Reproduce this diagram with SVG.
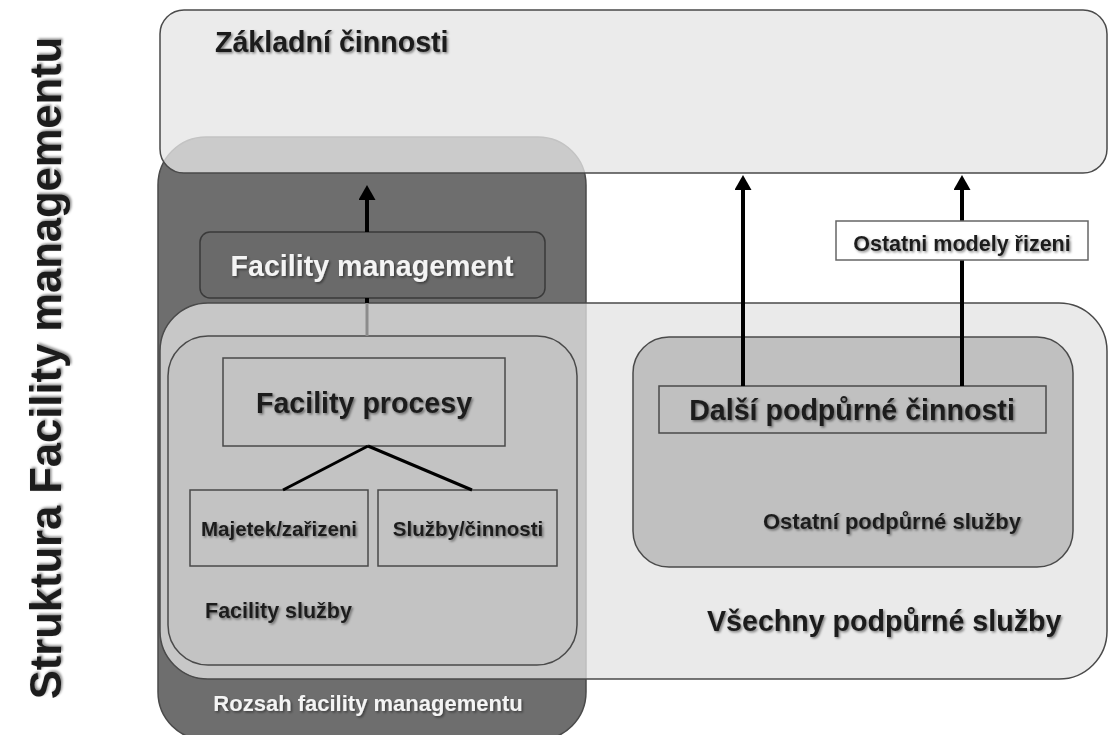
<svg xmlns="http://www.w3.org/2000/svg" width="1108" height="735" viewBox="0 0 1108 735">
  <defs>
    <style>
      text { font-family: "Liberation Sans", Arial, sans-serif; font-weight: bold; }
      .dark { fill: #1f1f1f; filter: url(#shadow); }
      .light { fill: #f4f4f4; filter: url(#shadow); }
      .big { font-size: 28.6px; }
      .mid { font-size: 21.5px; }
      .ctr { text-anchor: middle; }
      .panel { stroke: #4a4a4a; stroke-width: 1.5; }
      .box { fill: none; stroke: #4a4a4a; stroke-width: 1.5; }
      .link { stroke: #000; stroke-width: 4; fill: none; }
      .tree { stroke: #000; stroke-width: 3; fill: none; }
    </style>
    <filter id="shadow" x="-5%" y="-20%" width="110%" height="150%">
      <feDropShadow dx="1.5" dy="1.5" stdDeviation="1.2" flood-color="#000" flood-opacity="0.45"/>
    </filter>
    <marker id="head" markerUnits="userSpaceOnUse" viewBox="0 0 15 17" markerWidth="15" markerHeight="17" refX="5" refY="8.5" orient="auto">
      <path d="M0,0 L15,8.5 L0,17 Z" fill="#000"/>
    </marker>
  </defs>

  <rect width="1108" height="735" fill="#ffffff"/>

  <!-- side title -->
  <text id="title" class="dark ctr" font-size="43.5" transform="translate(61,368) rotate(-90)">Struktura Facility managementu</text>

  <!-- scope of facility management (dark column) -->
  <g id="rozsah">
    <rect class="panel" x="158" y="137" width="428" height="603" rx="48" fill="#6e6e6e"/>
  </g>

  <!-- facility management node -->
  <g id="facility-management">
    <rect x="200" y="232" width="345" height="66" rx="10" fill="#6a6a6a" stroke="#3a3a3a" stroke-width="1.5"/>
    <text class="light big ctr" x="372" y="276">Facility management</text>
  </g>

  <!-- core activities (translucent band) -->
  <g id="zakladni">
    <rect class="panel" x="160" y="10" width="947" height="163" rx="24" fill="#e6e6e6" fill-opacity="0.78"/>
    <text class="dark big" x="215" y="52">Základní činnosti</text>
  </g>

  <!-- all support services (translucent band) -->
  <g id="vsechny">
    <rect class="panel" x="160" y="303" width="947" height="376" rx="48" fill="#e4e4e4" fill-opacity="0.76"/>
    <text class="dark big" x="707" y="631">Všechny podpůrné služby</text>
  </g>

  <g id="rozsah-label">
    <text class="light ctr" x="368" y="711" font-size="22">Rozsah facility managementu</text>
  </g>

  <!-- facility services -->
  <g id="facility-sluzby">
    <rect class="panel" x="168" y="336" width="409" height="329" rx="40" fill="#c3c3c3"/>
    <text class="dark mid" x="205" y="618">Facility služby</text>
  </g>

  <g id="facility-procesy">
    <rect class="box" x="223" y="358" width="282" height="88"/>
    <text class="dark big ctr" x="364" y="413">Facility procesy</text>
  </g>

  <g id="majetek">
    <rect class="box" x="190" y="490" width="178" height="76"/>
    <text class="dark ctr" x="279" y="536" font-size="20.5">Majetek/zařizeni</text>
  </g>

  <g id="sluzby-cinnosti">
    <rect class="box" x="378" y="490" width="179" height="76"/>
    <text class="dark ctr" x="468" y="536" font-size="20.5">Služby/činnosti</text>
  </g>

  <!-- other support services -->
  <g id="ostatni-sluzby">
    <rect class="panel" x="633" y="337" width="440" height="230" rx="36" fill="#c0c0c0"/>
    <text class="dark" x="763" y="529" font-size="22">Ostatní podpůrné služby</text>
  </g>

  <g id="dalsi">
    <rect class="box" x="659" y="386" width="387" height="47" fill="#c4c4c4"/>
    <text class="dark big ctr" x="852" y="420">Další podpůrné činnosti</text>
  </g>

  <!-- connectors -->
  <g id="connectors">
    <line class="link" x1="367" y1="232" x2="367" y2="195" marker-end="url(#head)"/>
    <line class="link" x1="367" y1="298" x2="367" y2="303" stroke-width="3"/>
    <line x1="367" y1="303" x2="367" y2="336" stroke="#8c8c8c" stroke-width="3"/>
    <line class="tree" x1="368" y1="446" x2="283" y2="490"/>
    <line class="tree" x1="368" y1="446" x2="472" y2="490"/>
    <line class="link" x1="743" y1="386" x2="743" y2="185" marker-end="url(#head)"/>
    <line class="link" x1="962" y1="386" x2="962" y2="260"/>
    <line class="link" x1="962" y1="221" x2="962" y2="185" marker-end="url(#head)"/>
  </g>

  <g id="ostatni-modely">
    <rect x="836" y="221" width="252" height="39" fill="#ffffff" stroke="#666" stroke-width="1.5"/>
    <text class="dark mid ctr" x="962" y="251">Ostatni modely řizeni</text>
  </g>
</svg>
